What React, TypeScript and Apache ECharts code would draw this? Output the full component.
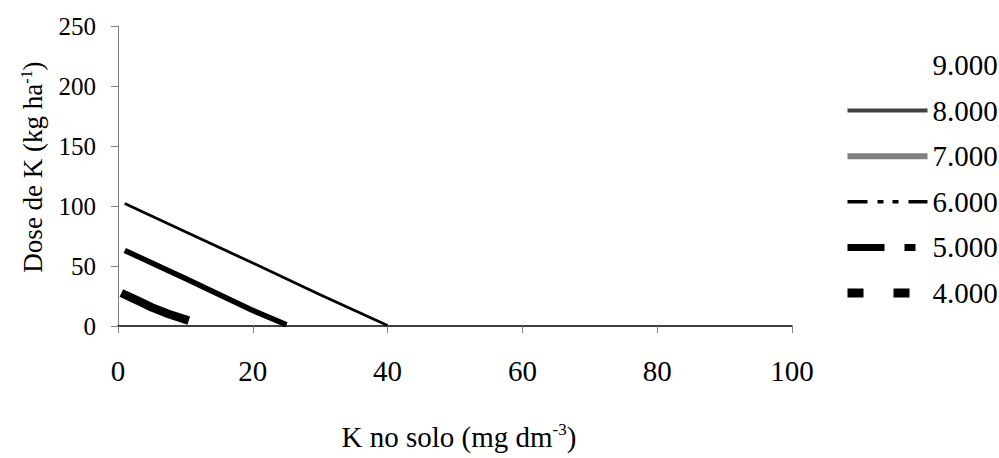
import React, { useEffect, useRef } from "react";
import * as echarts from "echarts";

const seriesNames = ["9.000", "8.000", "7.000", "6.000", "5.000", "4.000"];
const xTicks = [0, 20, 40, 60, 80, 100];
const yTicks = [0, 50, 100, 150, 200, 250];

// K no solo (x) and Dose de K (y)
const s6X = [1, 10, 20, 30, 40];
const s6Y = [102, 78.5, 52.5, 26, 0.5];
const s5X = [1, 10, 20, 25];
const s5Y = [63, 39.5, 13, 1];
const s4X = [0.5, 3, 5, 7.5, 10.5];
const s4Y = [27.5, 21, 15.5, 10, 4.5];

const FONT = "Liberation Serif";

const pairs = (xs: number[], ys: number[]) => xs.map((x, i) => [x, ys[i]]);

export default function App() {
  const ref = useRef<HTMLDivElement>(null);
  useEffect(() => {
    if (!ref.current) return;
    const chart = echarts.init(ref.current, undefined, { renderer: "svg" });
    const legendStyles: any[] = [
      { color: "transparent", width: 0, type: "solid" },
      { color: "#404040", width: 4, type: "solid" },
      { color: "#808080", width: 6, type: "solid" },
      { color: "#000", width: 3.5, type: [20, 10, 6, 9, 6, 10] },
      { color: "#000", width: 7, type: [37, 20, 11, 12] },
      { color: "#000", width: 9, type: [16, 30] },
    ];
    const data: any[] = [[], [], [], pairs(s6X, s6Y), pairs(s5X, s5Y), pairs(s4X, s4Y)];
    const lineWidths = [0, 4, 6, 2.8, 5.5, 8.5];
    const lineColors = ["transparent", "#404040", "#808080", "#000", "#000", "#000"];
    chart.setOption({
      animation: false,
      backgroundColor: "#fff",
      grid: { left: 118, right: 207, top: 26, bottom: 128, containLabel: false },
      legend: {
        orient: "vertical",
        left: 843,
        top: 50,
        padding: 0,
        itemWidth: 80,
        itemHeight: 14,
        itemGap: 15.6,
        selectedMode: false,
        textStyle: { fontFamily: FONT, fontSize: 29, lineHeight: 30, color: "#000", padding: [0, 0, 0, 0] },
        data: seriesNames.map((n, i) => ({ name: n, lineStyle: legendStyles[i], itemStyle: { opacity: 0 } })),
      },
      xAxis: {
        type: "value",
        min: xTicks[0],
        max: xTicks[xTicks.length - 1],
        interval: 20,
        splitLine: { show: false },
        axisLine: { lineStyle: { color: "#000", width: 1.5 } },
        axisTick: { show: true, inside: false, length: 7, lineStyle: { color: "#808080" } },
        axisLabel: { fontFamily: FONT, fontSize: 29, color: "#000", margin: 30 },
        name: "K no solo (mg dm{sup|-3})",
        nameLocation: "middle",
        nameGap: 111,
        nameTextStyle: {
          fontFamily: FONT,
          fontSize: 29,
          color: "#000",
          padding: [0, 0, 0, 8],
          rich: {
            sup: { fontFamily: FONT, fontSize: 17, color: "#000", verticalAlign: "top", lineHeight: 32 },
          },
          lineHeight: 32,
          verticalAlign: "middle",
        },
      },
      yAxis: {
        type: "value",
        min: yTicks[0],
        max: yTicks[yTicks.length - 1],
        interval: 50,
        splitLine: { show: false },
        axisLine: { show: true, lineStyle: { color: "#808080", width: 1 } },
        axisTick: { show: true, inside: false, length: 7, lineStyle: { color: "#808080" } },
        axisLabel: { fontFamily: FONT, fontSize: 25, color: "#000", margin: 22 },
      },
      graphic: [
        {
          type: "text",
          x: 33,
          y: 167,
          rotation: Math.PI / 2,
          style: {
            text: "Dose de K (kg ha{sup|-1})",
            fontFamily: FONT,
            fontSize: 27,
            fill: "#000",
            align: "center",
            verticalAlign: "middle",
            lineHeight: 30,
            rich: {
              sup: { fontFamily: FONT, fontSize: 16, fill: "#000", verticalAlign: "top", lineHeight: 30 },
            },
          },
        },
      ],
      series: seriesNames.map((n, i) => ({
        name: n,
        type: "line",
        data: data[i],
        symbol: "none",
        showSymbol: false,
        lineStyle: { color: lineColors[i], width: lineWidths[i], type: "solid" },
        itemStyle: { color: lineColors[i] },
      })),
    });
    return () => chart.dispose();
  }, []);
  return <div ref={ref} style={{ position: "fixed", left: 0, top: 0, width: 999, height: 458 }} />;
}
